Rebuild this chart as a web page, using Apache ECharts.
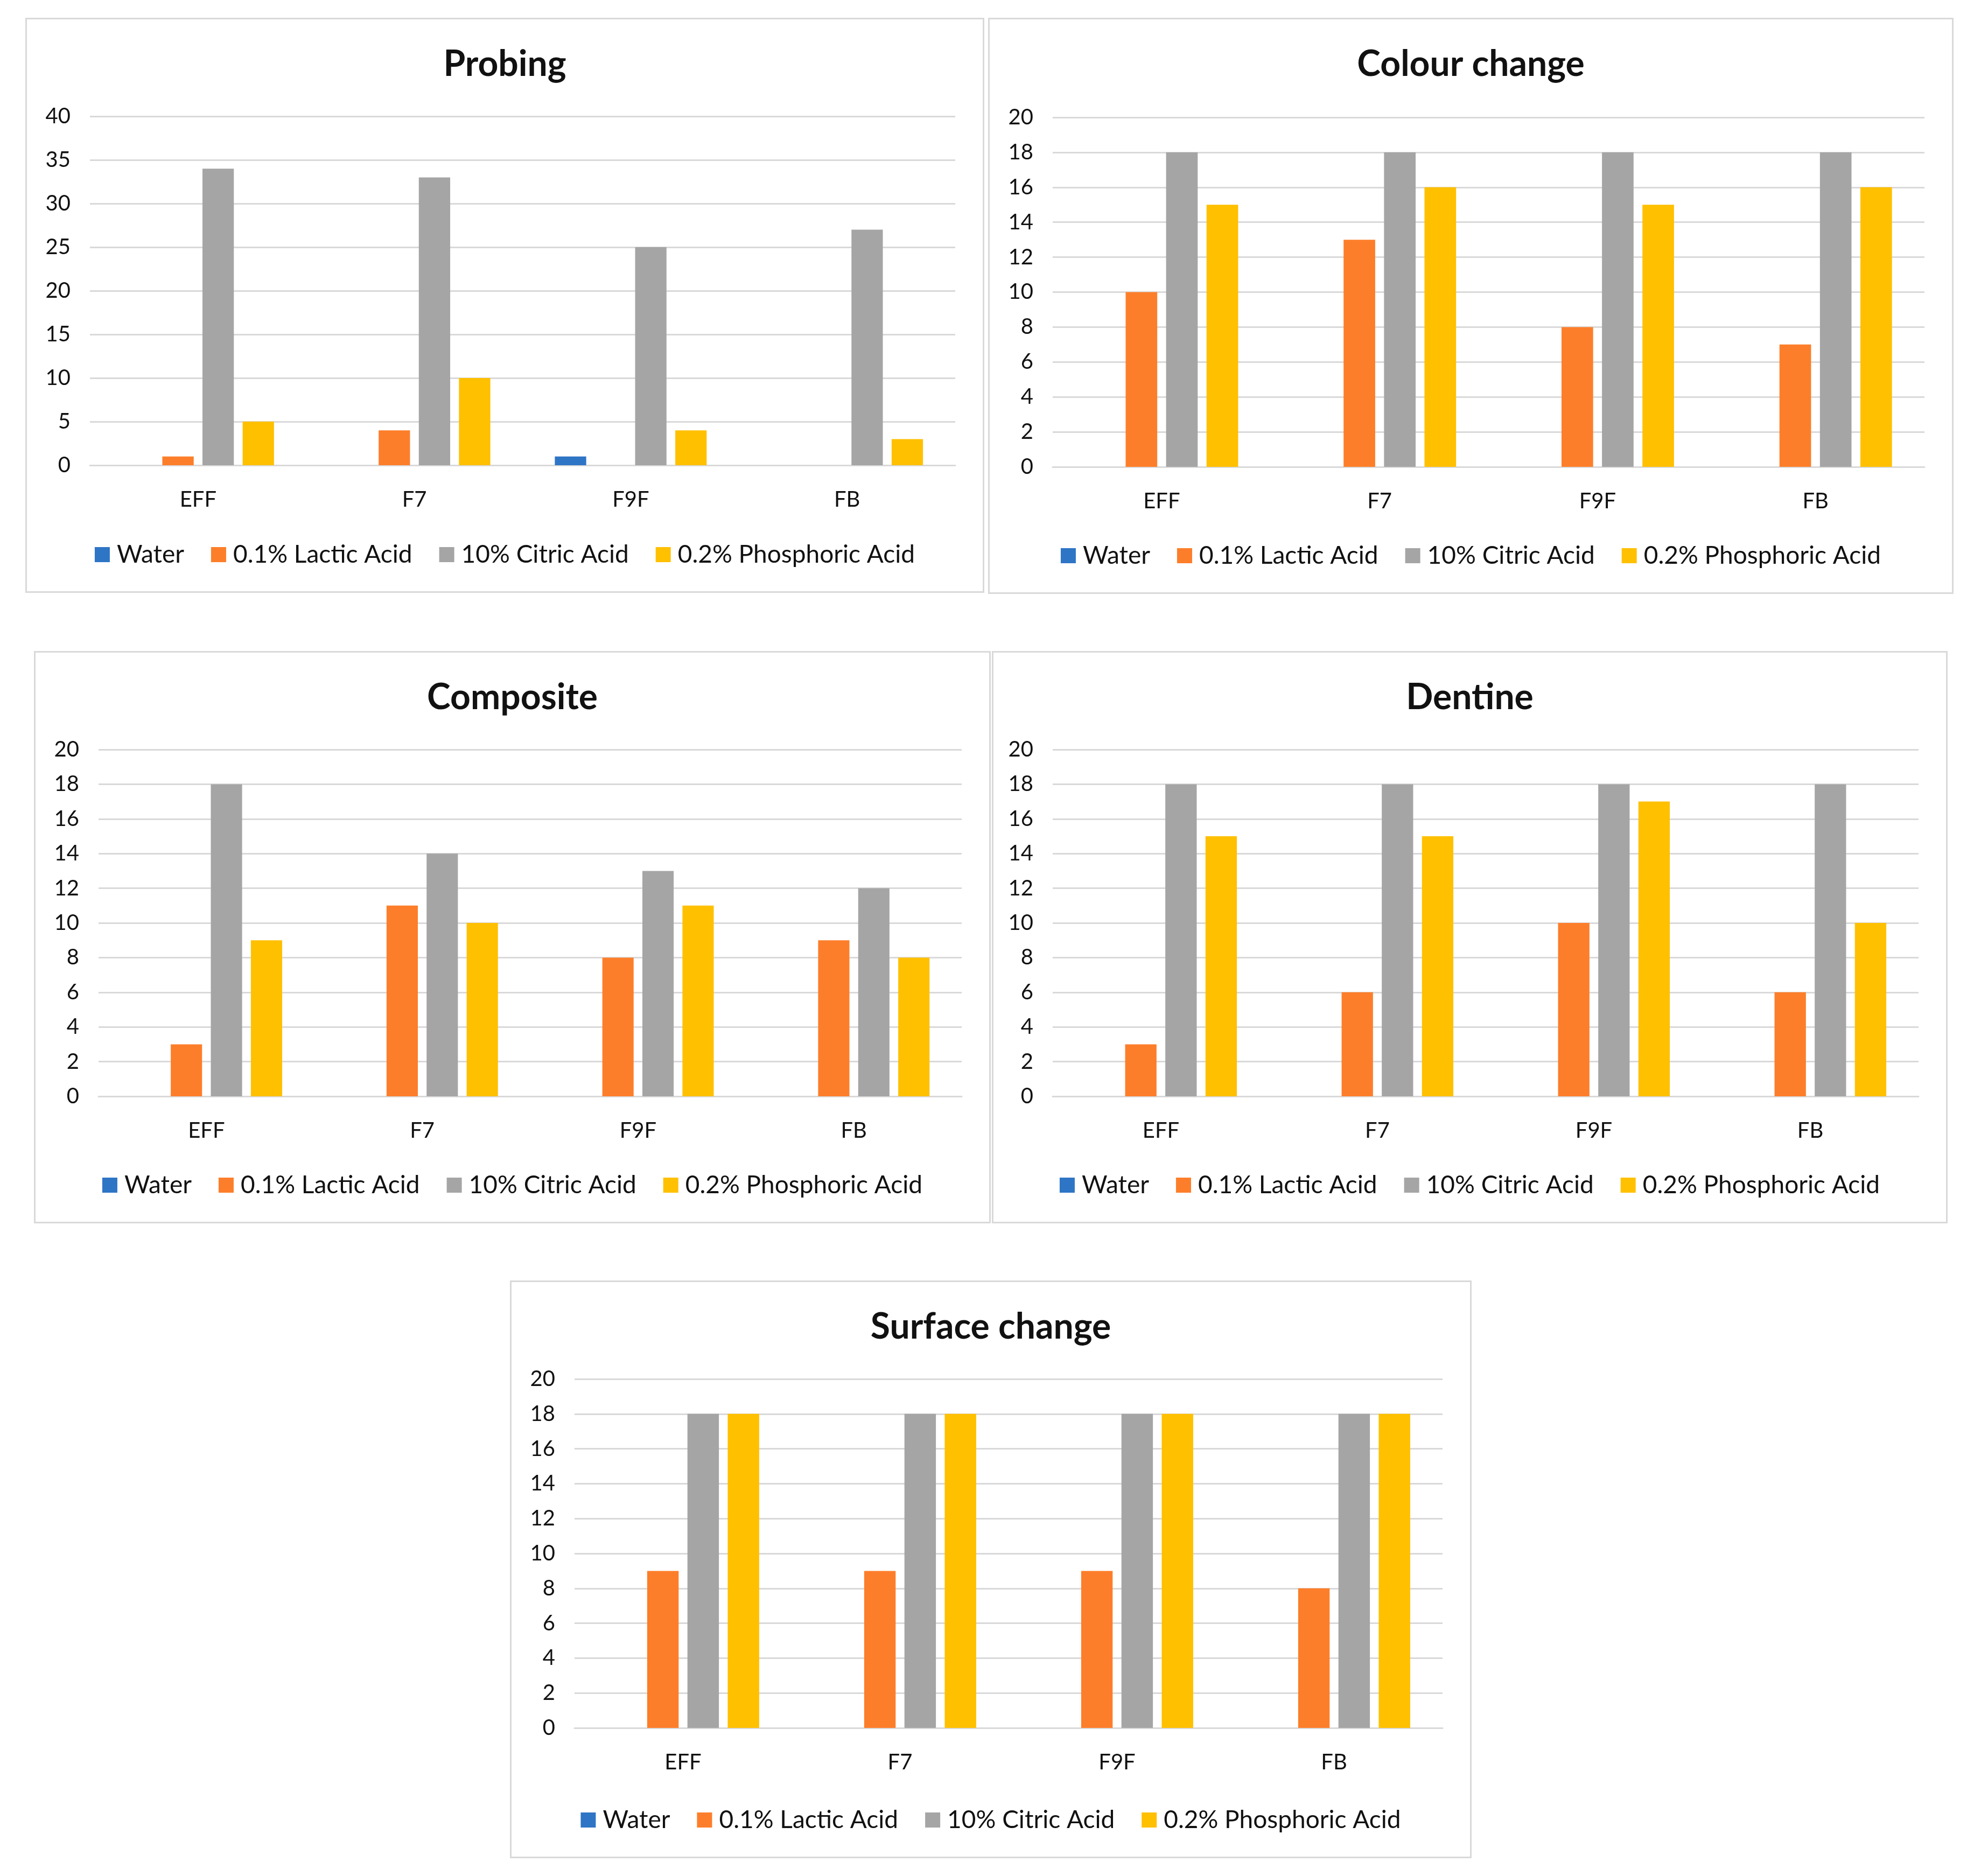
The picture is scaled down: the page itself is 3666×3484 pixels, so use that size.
<!DOCTYPE html>
<html>
<head>
<meta charset="utf-8">
<script src="https://cdn.jsdelivr.net/npm/echarts@6/dist/echarts.min.js"></script>
<style>
html,body{margin:0;padding:0;background:#fff;}
body{width:3666px;height:3484px;position:relative;overflow:hidden;}
.panel{position:absolute;box-sizing:border-box;border:3px solid #d9d9d9;background:#fff;}
</style>
</head>
<body>
<div id="p1" class="panel" style="left:47px;top:33px;width:1781px;height:1068px;"></div>
<div id="p2" class="panel" style="left:1835px;top:33px;width:1793px;height:1070px;"></div>
<div id="p3" class="panel" style="left:63px;top:1209px;width:1777px;height:1063px;"></div>
<div id="p4" class="panel" style="left:1842px;top:1209px;width:1775px;height:1063px;"></div>
<div id="p5" class="panel" style="left:947px;top:2378px;width:1786px;height:1073px;"></div>
<script>
const categories = ['EFF', 'F7', 'F9F', 'FB'];
const seriesNames = ['Water', '0.1% Lactic Acid', '10% Citric Acid', '0.2% Phosphoric Acid'];
const colors = ['#2E75C6', '#FD7E2A', '#A5A5A5', '#FFC000'];

// Probing
const probingWater = [0, 0, 1, 0];
const probingLactic = [1, 4, 0, 0];
const probingCitric = [34, 33, 25, 27];
const probingPhosphoric = [5, 10, 4, 3];

// Colour change
const colourWater = [0, 0, 0, 0];
const colourLactic = [10, 13, 8, 7];
const colourCitric = [18, 18, 18, 18];
const colourPhosphoric = [15, 16, 15, 16];

// Composite
const compositeWater = [0, 0, 0, 0];
const compositeLactic = [3, 11, 8, 9];
const compositeCitric = [18, 14, 13, 12];
const compositePhosphoric = [9, 10, 11, 8];

// Dentine
const dentineWater = [0, 0, 0, 0];
const dentineLactic = [3, 6, 10, 6];
const dentineCitric = [18, 18, 18, 18];
const dentinePhosphoric = [15, 15, 17, 10];

// Surface change
const surfaceWater = [0, 0, 0, 0];
const surfaceLactic = [9, 9, 9, 8];
const surfaceCitric = [18, 18, 18, 18];
const surfacePhosphoric = [18, 18, 18, 18];

const FONT = 'Lato, "Open Sans", sans-serif';

function makeOption(title, data, yMax, yInterval, grid) {
  return {
    animation: false,
    textStyle: { fontFamily: FONT },
    title: {
      text: title, left: 'center', top: 46,
      textStyle: { fontFamily: FONT, fontSize: 66, fontWeight: 'bold', color: '#111' }
    },
    legend: {
      bottom: 40, left: 'center',
      itemWidth: 28, itemHeight: 28, itemGap: 50, icon: 'rect',
      textStyle: { fontFamily: FONT, fontSize: 46, color: '#111', padding: [0, 0, 0, 8] },
      data: seriesNames
    },
    grid: grid,
    xAxis: {
      type: 'category', data: categories,
      axisLine: { show: true, lineStyle: { color: '#d9d9d9', width: 3 } },
      axisTick: { show: false },
      axisLabel: { fontFamily: FONT, fontSize: 40, color: '#111', margin: 44 }
    },
    yAxis: {
      type: 'value', min: 0, max: yMax, interval: yInterval,
      axisLine: { show: false }, axisTick: { show: false },
      splitLine: { lineStyle: { color: '#d9d9d9', width: 3 } },
      axisLabel: { fontFamily: FONT, fontSize: 40, color: '#111', margin: 36 }
    },
    series: data.map((d, i) => ({
      name: seriesNames[i], type: 'bar', data: d,
      barWidth: '14.5%', barGap: '28%',
      itemStyle: { color: colors[i] }
    }))
  };
}

const panels = [
  ['p1', 'Probing', [probingWater, probingLactic, probingCitric, probingPhosphoric], 40, 5, { left: 117, right: 51, top: 180, bottom: 234 }],
  ['p2', 'Colour change', [colourWater, colourLactic, colourCitric, colourPhosphoric], 20, 2, { left: 117, right: 51, top: 182, bottom: 233 }],
  ['p3', 'Composite', [compositeWater, compositeLactic, compositeCitric, compositePhosphoric], 20, 2, { left: 117, right: 51, top: 180, bottom: 233 }],
  ['p4', 'Dentine', [dentineWater, dentineLactic, dentineCitric, dentinePhosphoric], 20, 2, { left: 110, right: 51, top: 180, bottom: 233 }],
  ['p5', 'Surface change', [surfaceWater, surfaceLactic, surfaceCitric, surfacePhosphoric], 20, 2, { left: 117, right: 51, top: 180, bottom: 239 }]
];

panels.forEach(p => {
  const el = document.getElementById(p[0]);
  const chart = echarts.init(el, null, { renderer: 'canvas' });
  chart.setOption(makeOption(p[1], p[2], p[3], p[4], p[5]));
});
</script>
</body>
</html>
